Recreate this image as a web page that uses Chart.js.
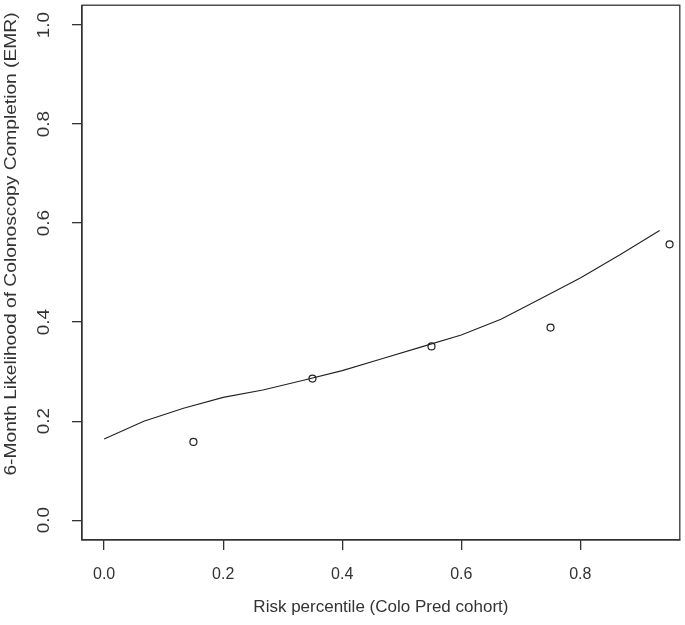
<!DOCTYPE html>
<html>
<head>
<meta charset="utf-8">
<script src="https://cdn.jsdelivr.net/npm/chart.js@4/dist/chart.umd.min.js"></script>
<style>
html,body{margin:0;padding:0;background:#fff;}
#wrap{width:685px;height:625px;position:relative;}
</style>
</head>
<body>
<div id="wrap"><canvas id="c" width="685" height="625"></canvas></div>
<script>
// Observed points (binned risk percentile vs observed completion)
const pointX = [0.15, 0.35, 0.55, 0.75, 0.95];
const pointY = [0.158, 0.286, 0.351, 0.389, 0.557];
// Fitted curve
const curveX = [0, 0.0667, 0.1333, 0.2, 0.2667, 0.3333, 0.4, 0.4667, 0.5333, 0.6, 0.6667, 0.7333, 0.8, 0.8667, 0.9333];
const curveY = [0.164, 0.200, 0.226, 0.248, 0.263, 0.282, 0.302, 0.326, 0.350, 0.374, 0.406, 0.447, 0.489, 0.536, 0.585];
// Axis ticks
const xTicks = [0.0, 0.2, 0.4, 0.6, 0.8];
const yTicks = [0.0, 0.2, 0.4, 0.6, 0.8, 1.0];
const xTitle = 'Risk percentile (Colo Pred cohort)';
const yTitle = '6-Month Likelihood of Colonoscopy Completion (EMR)';

const FONT = '"Liberation Sans", Arial, sans-serif';
const INK = '#333333';

const boxPlugin = {
  id: 'rbox',
  afterDraw(chart) {
    const ctx = chart.ctx;
    const a = chart.chartArea;
    const xs = chart.scales.x, ys = chart.scales.y;
    ctx.save();
    ctx.strokeStyle = INK;
    ctx.lineWidth = 1.3;
    ctx.strokeRect(a.left, a.top, a.right - a.left, a.bottom - a.top);
    ctx.fillStyle = INK;
    ctx.font = '16px ' + FONT;
    // x tick labels
    ctx.textAlign = 'center';
    ctx.textBaseline = 'middle';
    xTicks.forEach(v => {
      ctx.fillText(v.toFixed(1), xs.getPixelForValue(v), 575);
    });
    // y tick labels rotated (stretched along axis like the reference)
    yTicks.forEach(v => {
      ctx.save();
      ctx.translate(45, ys.getPixelForValue(v));
      ctx.rotate(-Math.PI / 2);
      ctx.scale(1.18, 1);
      ctx.fillText(v.toFixed(1), 0, 0);
      ctx.restore();
    });
    // titles
    ctx.font = '17px ' + FONT;
    ctx.fillText(xTitle, (a.left + a.right) / 2, 607);
    ctx.save();
    ctx.font = '16px ' + FONT;
    ctx.translate(12, 244);
    ctx.rotate(-Math.PI / 2);
    ctx.scale(1.2, 1);
    ctx.fillText(yTitle, 0, 0);
    ctx.restore();
    ctx.restore();
  }
};

new Chart(document.getElementById('c'), {
  type: 'scatter',
  data: {
    datasets: [
      {
        label: 'curve',
        data: curveX.map((x, i) => ({x: x, y: curveY[i]})),
        showLine: true,
        borderColor: '#222222',
        borderWidth: 1.1,
        pointRadius: 0,
        tension: 0,
        fill: false
      },
      {
        label: 'observed',
        data: pointX.map((x, i) => ({x: x, y: pointY[i]})),
        showLine: false,
        pointStyle: 'circle',
        pointRadius: 3.5,
        borderColor: '#222222',
        borderWidth: 1.2,
        backgroundColor: 'rgba(255,255,255,0)'
      }
    ]
  },
  options: {
    responsive: false,
    animation: false,
    devicePixelRatio: 1,
    layout: {padding: {top: 2, right: 3, left: 0, bottom: 0}},
    plugins: {legend: {display: false}, tooltip: {enabled: false}},
    scales: {
      x: {
        type: 'linear',
        min: -0.0372,
        max: 0.9672,
        afterBuildTicks(s) { s.ticks = xTicks.map(v => ({value: v})); },
        afterFit(s) { s.height = 85; },
        ticks: {display: false},
        grid: {drawOnChartArea: false, drawTicks: true, tickLength: 10, color: INK, lineWidth: 1.3},
        border: {display: true, color: INK, width: 1.3}
      },
      y: {
        type: 'linear',
        min: -0.04,
        max: 1.04,
        afterBuildTicks(s) { s.ticks = yTicks.map(v => ({value: v})); },
        afterFit(s) { s.width = 82; },
        ticks: {display: false},
        grid: {drawOnChartArea: false, drawTicks: true, tickLength: 10, color: INK, lineWidth: 1.3},
        border: {display: true, color: INK, width: 1.3}
      }
    }
  },
  plugins: [boxPlugin]
});
</script>
</body>
</html>
